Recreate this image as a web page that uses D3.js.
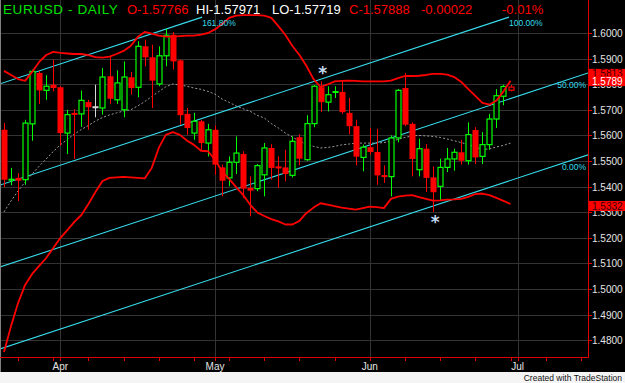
<!DOCTYPE html>
<html>
<head>
<meta charset="utf-8">
<script src="https://cdn.jsdelivr.net/npm/d3@7"></script>
<style>
  html, body { margin: 0; padding: 0; background: #fff; }
  svg { display: block; }
</style>
</head>
<body>
<svg id="chart" width="625" height="383"></svg>
<script>
// dados do gráfico (EURUSD diário)
const firstBarDate = new Date(2008, 2, 20); // primeira barra, dias úteis a partir daqui
const monthLabels = ["Apr", "May", "Jun", "Jul"];
const priceTicks = [1.48, 1.49, 1.50, 1.51, 1.52, 1.53, 1.54, 1.55, 1.56, 1.57, 1.58, 1.59, 1.60];

const opens = [
  1.5622,1.5425,1.5434,1.5427,1.5645,1.5844,1.5776,1.5798,1.5788,1.5609,
  1.5688,1.5684,1.5730,1.5710,1.5707,1.5831,1.5739,1.5700,1.5827,1.5788,
  1.5948,1.5905,1.5801,1.5911,1.5993,1.5893,1.5684,1.5609,1.5655,1.5570,
  1.5622,1.5475,1.5434,1.5495,1.5527,1.5395,1.5392,1.5446,1.5551,1.5479,
  1.5475,1.5444,1.5593,1.5505,1.5646,1.5788,1.5730,1.5768,1.5770,1.5688,
  1.5636,1.5514,1.5554,1.5535,1.5443,1.5439,1.5590,1.5785,1.5645,1.5466,
  1.5548,1.5436,1.5401,1.5475,1.5508,1.5534,1.5501,1.5621,1.5518,1.5564,
  1.5664,1.5753,1.57766];
const highs = [
  1.5648,1.5473,1.5453,1.5661,1.5857,1.5852,1.5835,1.5896,1.5792,1.5700,
  1.5703,1.5775,1.5739,1.5798,1.5863,1.5909,1.5854,1.5889,1.5848,1.5968,
  1.5974,1.5954,1.5948,1.6016,1.6004,1.5896,1.5707,1.5688,1.5661,1.5645,
  1.5639,1.5486,1.5518,1.5596,1.5538,1.5440,1.5488,1.5570,1.5566,1.5518,
  1.5544,1.5596,1.5605,1.5679,1.5796,1.5811,1.5792,1.5792,1.5814,1.5746,
  1.5661,1.5564,1.5629,1.5626,1.5483,1.5600,1.5781,1.5844,1.5651,1.5587,
  1.5566,1.5479,1.5509,1.5551,1.5548,1.5583,1.5651,1.5632,1.5613,1.5684,
  1.5781,1.5798,1.57971];
const lows = [
  1.5398,1.5406,1.5344,1.5407,1.5579,1.5723,1.5739,1.5772,1.5561,1.5527,
  1.5508,1.5633,1.5622,1.5671,1.5681,1.5723,1.5723,1.5671,1.5759,1.5749,
  1.5870,1.5707,1.5792,1.5870,1.5857,1.5642,1.5602,1.5583,1.5544,1.5518,
  1.5446,1.5362,1.5401,1.5449,1.5355,1.5284,1.5382,1.5362,1.5427,1.5395,
  1.5421,1.5436,1.5483,1.5501,1.5632,1.5691,1.5694,1.5746,1.5684,1.5605,
  1.5483,1.5460,1.5525,1.5407,1.5414,1.5362,1.5573,1.5636,1.5440,1.5440,
  1.5379,1.5301,1.5345,1.5457,1.5462,1.5486,1.5486,1.5488,1.5488,1.5544,
  1.5629,1.5718,1.57719];
const closes = [
  1.5427,1.5429,1.5423,1.5648,1.5850,1.5776,1.5792,1.5785,1.5609,1.5681,
  1.5680,1.5737,1.5710,1.5710,1.5828,1.5743,1.5805,1.5828,1.5785,1.5948,
  1.5905,1.5814,1.5911,1.5991,1.5889,1.5679,1.5629,1.5655,1.5570,1.5622,
  1.5486,1.5423,1.5495,1.5531,1.5392,1.5384,1.5482,1.5551,1.5473,1.5471,
  1.5449,1.5577,1.5509,1.5646,1.5792,1.5730,1.5759,1.5771,1.5691,1.5636,
  1.5517,1.5554,1.5535,1.5444,1.5439,1.5590,1.5776,1.5642,1.5508,1.5548,
  1.5434,1.5378,1.5475,1.5508,1.5534,1.5501,1.5603,1.5514,1.5564,1.5664,
  1.5755,1.5791,1.57888];

// bandas de Bollinger
const bbUpper = [
  1.5852,1.5836,1.5820,1.5813,1.5848,1.5887,1.5914,1.5926,1.5922,1.5920,
  1.5918,1.5918,1.5914,1.5906,1.5904,1.5908,1.5918,1.5930,1.5949,1.5984,
  1.6004,1.5998,1.5990,1.5986,1.5986,1.5988,1.5990,1.5990,1.5994,1.6000,
  1.6014,1.6035,1.6059,1.6068,1.6070,1.6070,1.6070,1.6068,1.6059,1.6027,
  1.5992,1.5949,1.5914,1.5871,1.5820,1.5789,1.5799,1.5811,1.5813,1.5814,
  1.5813,1.5811,1.5811,1.5811,1.5811,1.5814,1.5824,1.5832,1.5832,1.5833,
  1.5836,1.5840,1.5840,1.5837,1.5828,1.5809,1.5781,1.5754,1.5727,1.5720,
  1.5736,1.5772,1.5813];
const bbMiddle = [
  1.5301,1.5344,1.5383,1.5418,1.5449,1.5480,1.5508,1.5537,1.5563,1.5584,
  1.5605,1.5623,1.5639,1.5656,1.5670,1.5680,1.5688,1.5695,1.5700,1.5715,
  1.5732,1.5752,1.5771,1.5790,1.5801,1.5797,1.5792,1.5785,1.5780,1.5772,
  1.5761,1.5742,1.5729,1.5715,1.5704,1.5694,1.5678,1.5668,1.5646,1.5629,
  1.5609,1.5593,1.5578,1.5564,1.5557,1.5551,1.5553,1.5557,1.5563,1.5566,
  1.5570,1.5570,1.5570,1.5570,1.5572,1.5577,1.5584,1.5592,1.5598,1.5600,
  1.5598,1.5596,1.5592,1.5586,1.5579,1.5572,1.5564,1.5555,1.5545,1.5547,
  1.5555,1.5561,1.5570];
const bbLower = [
  1.4754,1.4855,1.4945,1.5016,1.5059,1.5090,1.5121,1.5160,1.5199,1.5230,
  1.5262,1.5289,1.5332,1.5379,1.5422,1.5434,1.5436,1.5438,1.5436,1.5434,
  1.5432,1.5473,1.5551,1.5602,1.5613,1.5602,1.5580,1.5563,1.5540,1.5538,
  1.5505,1.5459,1.5430,1.5398,1.5367,1.5329,1.5299,1.5285,1.5273,1.5264,
  1.5252,1.5252,1.5266,1.5297,1.5318,1.5335,1.5330,1.5324,1.5318,1.5314,
  1.5310,1.5316,1.5322,1.5320,1.5316,1.5352,1.5361,1.5365,1.5367,1.5359,
  1.5352,1.5345,1.5346,1.5349,1.5350,1.5352,1.5360,1.5371,1.5373,1.5367,
  1.5356,1.5344,1.5332];

// canal de Fibonacci (linha 0% ancorada em duas barras)
const channelStart = { bar: 0, price: 1.4771 };
const channelEnd = { bar: 72, price: 1.5424 };
const channelWidth = 0.0640;   // distância 0% -> 100%
const channelTop = 1.6062;     // as linhas param aqui
const fibLevels = [0, 0.5, 1, 1.618];
const fibLabels = ["0.00%", "50.00%", "100.00%", "161.80%"];

// marcadores (*) acima/abaixo de barras
const starBars = [45, 61];
const starSides = ["above", "below"];

// cores
const UP = "#00ff00", DOWN = "#ff0000", FLAT = "#d8d8d8";
const CYAN = "#36dcec";

// layout
const svg = d3.select("#chart");
const W = 625, H = 383;
const plotRight = 588, plotBottom = 357, blackBottom = 372;

const x = d3.scaleLinear().domain([-0.5686, 83.014]).range([0, plotRight]);
const y = d3.scaleLinear().domain([1.4734375, 1.6128906]).range([plotBottom, 0]);

// datas dos dias úteis
const barDates = [];
let dd = new Date(firstBarDate);
while (barDates.length < 85) {
  if (dd.getDay() !== 0 && dd.getDay() !== 6) barDates.push(new Date(dd));
  dd = d3.timeDay.offset(dd, 1);
}
const monthStarts = barDates.map((d, i) => i)
  .filter(i => i > 0 && barDates[i].getMonth() !== barDates[i - 1].getMonth() && x(i) <= plotRight);
const mondays = barDates.map((d, i) => i).filter(i => barDates[i].getDay() === 1 && x(i) <= plotRight);

// fundo
svg.append("rect").attr("width", W).attr("height", H).attr("fill", "#f4f4f4");
svg.append("rect").attr("width", W).attr("height", blackBottom).attr("fill", "#000");
svg.append("line").attr("x1", 0.5).attr("x2", 0.5).attr("y1", 0).attr("y2", blackBottom)
  .attr("stroke", "#808080");

// grade
svg.append("g").selectAll("line").data(priceTicks).enter().append("line")
  .attr("x1", 1).attr("x2", plotRight)
  .attr("y1", d => Math.round(y(d)) + 0.5).attr("y2", d => Math.round(y(d)) + 0.5)
  .attr("stroke", "#333");
svg.append("g").selectAll("line").data(monthStarts).enter().append("line")
  .attr("x1", d => Math.round(x(d)) + 0.5).attr("x2", d => Math.round(x(d)) + 0.5)
  .attr("y1", 0).attr("y2", plotBottom)
  .attr("stroke", "#333");

// área de plotagem com recorte
svg.append("clipPath").attr("id", "plot-clip")
  .append("rect").attr("x", 1).attr("y", 0).attr("width", plotRight - 1).attr("height", plotBottom);
const plot = svg.append("g").attr("clip-path", "url(#plot-clip)");

// canal de Fibonacci
const slope = (channelEnd.price - channelStart.price) / (channelEnd.bar - channelStart.bar);
const kLeft = x.invert(0), kRight = x.invert(plotRight);
const channel = fibLevels.map((lv, i) => {
  const base = channelStart.price + lv * channelWidth;
  const at = k => base + slope * (k - channelStart.bar);
  const kTop = channelStart.bar + (channelTop - base) / slope;
  const k1 = Math.min(kRight, kTop);
  return { label: fibLabels[i], at, k0: kLeft, k1, hitsTop: kTop < kRight };
});
plot.selectAll(".fib").data(channel).enter().append("line")
  .attr("class", "fib")
  .attr("x1", d => x(d.k0)).attr("y1", d => y(d.at(d.k0)))
  .attr("x2", d => x(d.k1)).attr("y2", d => y(d.at(d.k1)))
  .attr("stroke", CYAN).attr("stroke-width", 1.1);
svg.selectAll(".fib-label").data(channel).enter().append("text")
  .attr("class", "fib-label")
  .attr("x", d => d.hitsTop ? x(d.k1) : plotRight - 2)
  .attr("y", d => d.hitsTop ? y(d.at(d.k1)) + 8.5 : y(d.at(x.invert(plotRight - 16))) + 10)
  .attr("text-anchor", d => d.hitsTop ? "start" : "end")
  .attr("font-family", "Liberation Sans, Arial, sans-serif")
  .attr("font-size", 8.5)
  .attr("fill", CYAN)
  .text(d => d.label);

// bandas de Bollinger
const bandLine = d3.line().x((d, i) => x(i)).y(d => y(d));
plot.append("path").datum(bbMiddle).attr("d", bandLine)
  .attr("fill", "none").attr("stroke", "#9c9c9c").attr("stroke-width", 1)
  .attr("stroke-dasharray", "2,2");

// candles
const bars = opens.map((o, i) => ({
  i, o, h: highs[i], l: lows[i], c: closes[i], prev: i > 0 ? closes[i - 1] : o
}));
const barColor = d => d.c > d.prev ? UP : (d.c < d.prev ? DOWN : FLAT);
const cx = d => Math.round(x(d.i));

plot.selectAll(".wick").data(bars).enter().append("line")
  .attr("class", "wick")
  .attr("x1", d => cx(d) + 0.5).attr("x2", d => cx(d) + 0.5)
  .attr("y1", d => y(d.h)).attr("y2", d => y(d.l))
  .attr("stroke", barColor).attr("stroke-width", 1);

const bodyTall = d => Math.abs(y(d.o) - y(d.c)) >= 2;
// corpo cheio (fechamento < abertura)
plot.selectAll(".body-down").data(bars.filter(d => d.c < d.o && bodyTall(d))).enter().append("rect")
  .attr("class", "body-down")
  .attr("x", d => cx(d) - 2.5).attr("width", 6)
  .attr("y", d => y(d.o)).attr("height", d => y(d.c) - y(d.o))
  .attr("fill", barColor);
// corpo vazado (fechamento > abertura)
plot.selectAll(".body-up").data(bars.filter(d => d.c > d.o && bodyTall(d))).enter().append("rect")
  .attr("class", "body-up")
  .attr("x", d => cx(d) - 2).attr("width", 5)
  .attr("y", d => y(d.c)).attr("height", d => y(d.o) - y(d.c))
  .attr("fill", "#000").attr("stroke", barColor).attr("stroke-width", 1.2);
// doji
plot.selectAll(".body-doji").data(bars.filter(d => !bodyTall(d))).enter().append("line")
  .attr("class", "body-doji")
  .attr("x1", d => cx(d) - 2.5).attr("x2", d => cx(d) + 3.5)
  .attr("y1", d => y((d.o + d.c) / 2)).attr("y2", d => y((d.o + d.c) / 2))
  .attr("stroke", barColor).attr("stroke-width", 2);

// bandas superior e inferior por cima dos candles
[bbUpper, bbLower].forEach(band => {
  plot.append("path").datum(band).attr("d", bandLine)
    .attr("fill", "none").attr("stroke", "#ff0000").attr("stroke-width", 1.8)
    .attr("stroke-linejoin", "round");
});

// asteriscos
svg.selectAll(".star").data(starBars).enter().append("text")
  .attr("class", "star")
  .attr("x", d => x(d) + 2)
  .attr("y", (d, i) => starSides[i] === "above" ? y(highs[d]) - 2 : y(lows[d]) + 16)
  .attr("text-anchor", "middle")
  .attr("font-family", "DejaVu Sans, sans-serif")
  .attr("font-weight", "bold")
  .attr("font-size", 17)
  .attr("fill", "#c4dcf4")
  .text("*");

// eixos
svg.append("line").attr("x1", plotRight + 0.5).attr("x2", plotRight + 0.5)
  .attr("y1", 0).attr("y2", plotBottom + 0.5).attr("stroke", "#e00000");
svg.append("line").attr("x1", 0).attr("x2", plotRight + 1)
  .attr("y1", plotBottom + 0.5).attr("y2", plotBottom + 0.5).attr("stroke", "#e00000");

const yTicks = svg.append("g").selectAll("g").data(priceTicks).enter().append("g")
  .attr("transform", d => `translate(${plotRight},${Math.round(y(d)) + 0.5})`);
yTicks.append("line").attr("x1", 0).attr("x2", 4).attr("stroke", "#e00000");
yTicks.append("text").attr("x", 4).attr("dy", "0.35em")
  .attr("font-family", "Liberation Sans, Arial, sans-serif").attr("font-size", 10)
  .attr("fill", "#e4e4e4")
  .text(d => d.toFixed(4));

svg.append("g").selectAll("line").data(mondays.concat(monthStarts)).enter().append("line")
  .attr("x1", d => Math.round(x(d)) + 0.5).attr("x2", d => Math.round(x(d)) + 0.5)
  .attr("y1", plotBottom).attr("y2", plotBottom + 4)
  .attr("stroke", "#e00000");
svg.append("g").selectAll("text").data(monthStarts).enter().append("text")
  .attr("x", d => x(d)).attr("y", plotBottom + 13)
  .attr("text-anchor", "middle")
  .attr("font-family", "Liberation Sans, Arial, sans-serif").attr("font-size", 10)
  .attr("fill", "#e4e4e4")
  .text((d, i) => monthLabels[i]);

// caixas de último valor no eixo
const last = closes.length - 1;
const priceBoxes = [
  { value: bbUpper[last], offset: -7, text: "#3a0000" },
  { value: closes[last], offset: -6, text: "#ffffff" },
  { value: bbLower[last], offset: 2, text: "#3a0000" }
];
const boxes = svg.append("g").selectAll("g").data(priceBoxes).enter().append("g")
  .attr("transform", d => `translate(${plotRight + 1},${y(d.value) + d.offset})`);
boxes.append("rect").attr("x", 0).attr("y", -5).attr("width", W - plotRight).attr("height", 10)
  .attr("fill", "#ff0000");
boxes.append("text").attr("x", 3).attr("y", 3.6)
  .attr("font-family", "Liberation Sans, Arial, sans-serif").attr("font-size", 10)
  .attr("fill", d => d.text)
  .text(d => d.value.toFixed(4));

// cabeçalho com OHLC da última barra
const chg = closes[last] - closes[last - 1];
const header = [
  { t: "EURUSD - DAILY", c: "#00e000", x: 3, size: 13.5, ls: 0.6 },
  { t: "O-" + opens[last].toFixed(5), c: "#ff0000", x: 127, size: 13, ls: 0 },
  { t: "HI-" + highs[last].toFixed(5), c: "#ffffff", x: 196, size: 13, ls: 0 },
  { t: "LO-" + lows[last].toFixed(5), c: "#ffffff", x: 272, size: 13, ls: 0 },
  { t: "C-" + closes[last].toFixed(5), c: "#ff0000", x: 349, size: 13, ls: 0 },
  { t: chg.toFixed(5), c: "#ff0000", x: 421, size: 13, ls: 0 },
  { t: (chg / closes[last - 1] * 100).toFixed(2) + "%", c: "#ff0000", x: 502, size: 13, ls: 0 }
];
svg.append("g").selectAll("text").data(header).enter().append("text")
  .attr("x", d => d.x).attr("y", 14)
  .attr("font-family", "Liberation Sans, Arial, sans-serif")
  .attr("font-size", d => d.size)
  .attr("letter-spacing", d => d.ls)
  .attr("fill", d => d.c)
  .text(d => d.t);

svg.append("text").attr("x", W - 3).attr("y", 381)
  .attr("text-anchor", "end")
  .attr("font-family", "Liberation Sans, Arial, sans-serif").attr("font-size", 8.5)
  .attr("fill", "#111")
  .text("Created with TradeStation");
</script>
</body>
</html>
